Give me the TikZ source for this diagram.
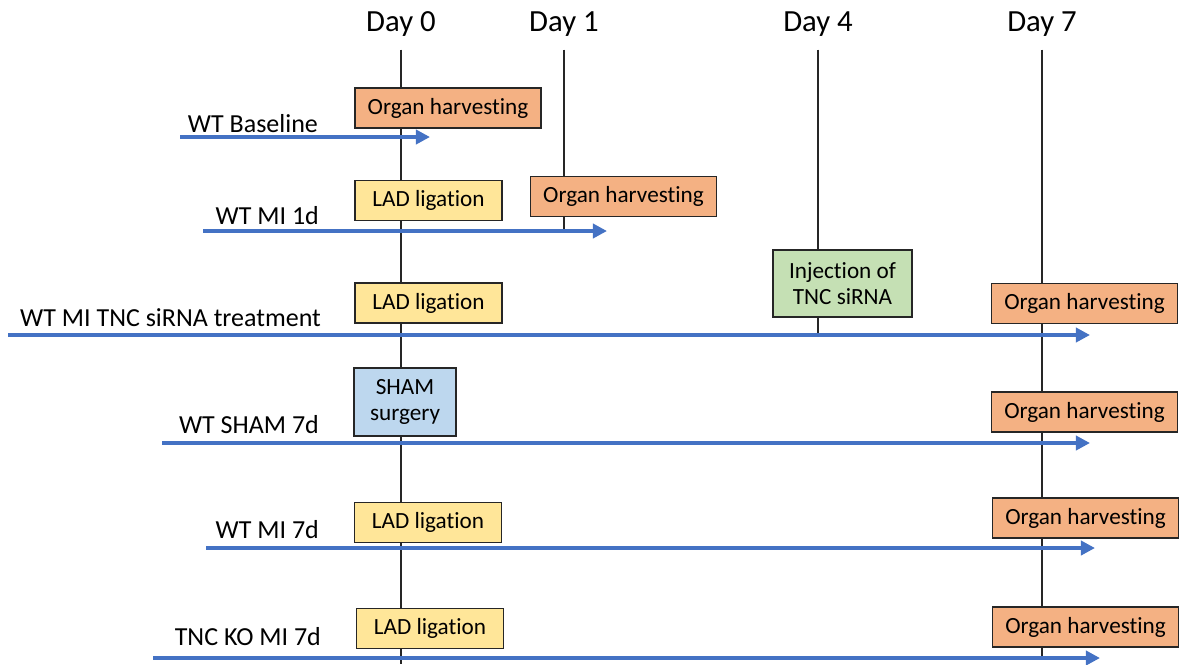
\documentclass[tikz,border=0pt]{standalone}
\usepackage{fontspec}
\setmainfont[Ligatures=NoCommon]{Carlito}
\usetikzlibrary{arrows.meta}
\definecolor{harvest}{HTML}{F4B183}
\definecolor{ligation}{HTML}{FFE699}
\definecolor{injection}{HTML}{C5E0B4}
\definecolor{sham}{HTML}{BDD7EE}
\definecolor{lineblue}{HTML}{4472C4}

\begin{document}
\begin{tikzpicture}[x=0.02cm, y=-0.02cm,
	day/.style={font=\fontsize{17.5}{19}\selectfont},
	group/.style={font=\fontsize{14.8}{16}\selectfont, anchor=east, inner sep=1pt},
	event/.style={draw=black!85, line width=0.8pt, font=\fontsize{13.2}{15}\selectfont, align=center, inner sep=2pt, minimum height=0.8cm},
	harvestbox/.style={event, fill=harvest, minimum width=3.72cm},
	ligationbox/.style={event, fill=ligation, minimum width=2.94cm},
	timeline/.style={draw=lineblue, line width=2pt, -{Triangle[length=8pt, width=8pt]}},
	dayline/.style={draw=black!85, line width=0.8pt, shorten <=4pt}]
	\useasboundingbox (0,0) rectangle (1179,664);
	% days
	\node[day] (d0) at (401,24) {Day 0};
	\node[day] (d1) at (564,24) {Day 1};
	\node[day] (d4) at (818,24) {Day 4};
	\node[day] (d7) at (1042,24) {Day 7};
	\coordinate (d0end) at (401,664);
	\coordinate (d1end) at (564,231);
	\coordinate (d4end) at (818,335);
	\coordinate (d7end) at (1042,657);
	\draw[dayline] (d0.south) -- (d0end);
	\draw[dayline] (d1.south) -- (d1end);
	\draw[dayline] (d4.south) -- (d4end);
	\draw[dayline] (d7.south) -- (d7end);
	% timelines
	\coordinate (s1) at (180,137); \coordinate (e1) at (430,137);
	\coordinate (s2) at (203,231); \coordinate (e2) at (607,231);
	\coordinate (s3) at (8,335); \coordinate (e3) at (1090,335);
	\coordinate (s4) at (162,443); \coordinate (e4) at (1090,443);
	\coordinate (s5) at (206,548); \coordinate (e5) at (1095,548);
	\coordinate (s6) at (153,658); \coordinate (e6) at (1100,658);
	\draw[timeline] (s1) -- (e1);
	\draw[timeline] (s2) -- (e2);
	\draw[timeline] (s3) -- (e3);
	\draw[timeline] (s4) -- (e4);
	\draw[timeline] (s5) -- (e5);
	\draw[timeline] (s6) -- (e6);
	% groups
	\node[group] (wtbase) at (320,124) {WT Baseline};
	\node[group] (wtmi1) at (321,216) {WT MI 1d};
	\node[group] (wtsirna) at (323,318) {WT MI TNC siRNA treatment};
	\node[group] (wtsham) at (321,425) {WT SHAM 7d};
	\node[group] (wtmi7) at (321,530) {WT MI 7d};
	\node[group] (komi7) at (323,637) {TNC KO MI 7d};
	% events
	\node[harvestbox] (h1) at (448,108) {Organ harvesting};
	\node[ligationbox] (l2) at (428.5,200.5) {LAD ligation};
	\node[harvestbox] (h2) at (623.5,196.5) {Organ harvesting};
	\node[ligationbox] (l3) at (428.5,303) {LAD ligation};
	\node[event, fill=injection, minimum width=2.78cm, minimum height=1.34cm] (inj3) at (842.5,283.5) {Injection of\\TNC siRNA};
	\node[harvestbox] (h3) at (1084.5,303.5) {Organ harvesting};
	\node[event, fill=sham, minimum width=2.04cm, minimum height=1.36cm] (sham4) at (405,402) {SHAM\\surgery};
	\node[harvestbox] (h4) at (1084.5,412) {Organ harvesting};
	\node[ligationbox] (l5) at (428,522.5) {LAD ligation};
	\node[harvestbox] (h5) at (1085.5,518) {Organ harvesting};
	\node[ligationbox] (l6) at (430,628.5) {LAD ligation};
	\node[harvestbox] (h6) at (1085.5,627) {Organ harvesting};
\end{tikzpicture}
\end{document}
